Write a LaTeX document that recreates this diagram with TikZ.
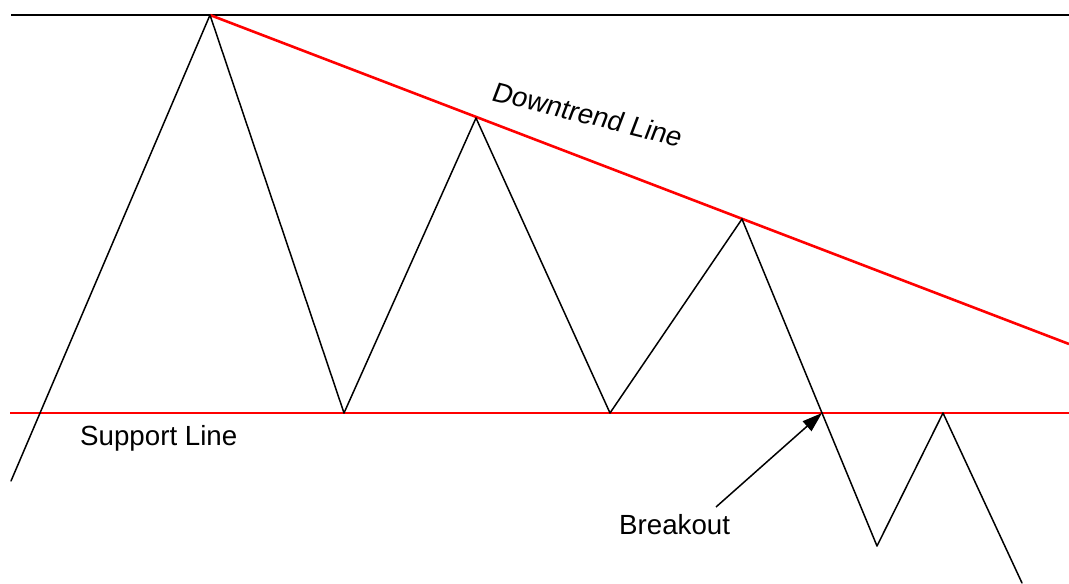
\documentclass[tikz,border=0pt]{standalone}
\usepackage{fontspec}
\setmainfont{Liberation Sans}
\usepackage{tikz}
\usetikzlibrary{positioning, calc, arrows.meta}
\tikzstyle{price}=[draw=black, line width=1.5pt, line join=miter]
\tikzstyle{trend}=[draw=red, line width=2.6pt]
\tikzstyle{label}=[inner sep=0pt, font=\fontsize{27.7}{33}\selectfont]
\tikzstyle{arrow}=[-{Triangle[length=20pt,width=13pt]}, line width=1.5pt]

\begin{document}
\begin{tikzpicture}[x=1pt, y=-1pt]
    \useasboundingbox (0,0) rectangle (1069,584);

    % zigzag points
    \foreach \px/\py [count=\i] in {11/481,210/15,344/413,476/118,610/413,742/219,822/413,877/546,943/413,1022/583}
    \coordinate (p-\i) at (\px,\py);

    \coordinate (top-l) at (11,15);
    \coordinate (top-r) at (1069,15);
    \coordinate (sup-l) at (10,413);
    \coordinate (sup-r) at (1069,413);
    \coordinate (down-r) at (1069,344);

    \draw [price, line width=1.4pt] (top-l) -- (top-r);
    \draw [trend] (sup-l) -- (sup-r);
    \draw [trend] (p-2) -- (down-r);

    \foreach \i [evaluate=\i as \j using int(\i+1)] in {1,...,9}
    \draw [price, line cap=round] (p-\i) -- (p-\j);

    \node [label, anchor=base west, rotate=-14, xslant=0.12] (down-lbl) at (490,100) {Downtrend Line};
    \node [label, anchor=base west] (sup-lbl) at (80,445) {Support Line};
    \node [label, anchor=base west] (brk-lbl) at (619,534) {Breakout};

    \coordinate (brk-tail) at (716,507);
    \draw [arrow] (brk-tail) -- (p-7);
\end{tikzpicture}
\end{document}
